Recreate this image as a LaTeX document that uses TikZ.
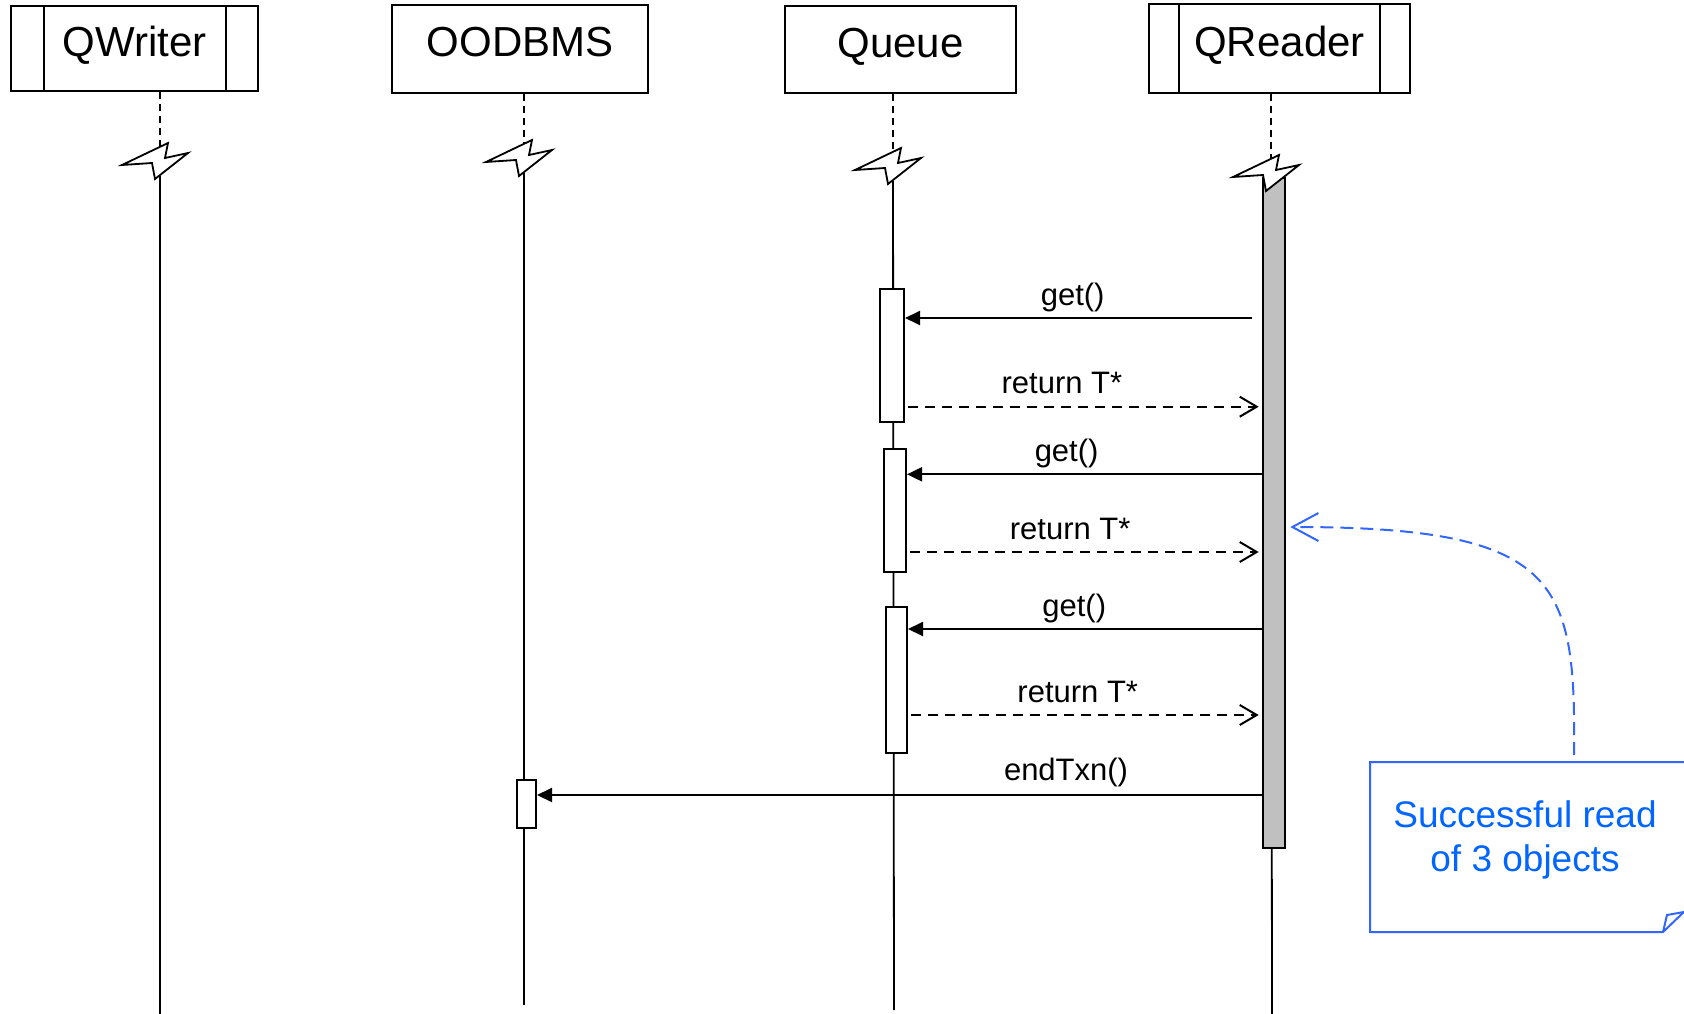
\documentclass[tikz,border=0pt]{standalone}
\usepackage{fontspec}
\setmainfont{Liberation Sans}
\usetikzlibrary{arrows.meta}
\definecolor{notetext}{RGB}{0,102,255}
\definecolor{noteline}{RGB}{51,102,255}
\definecolor{bargray}{RGB}{192,192,192}

\begin{document}
\begin{tikzpicture}[x=1pt, y=-1pt, line width=2pt,
			obj/.style = {draw, rectangle, fill=white, inner sep=0pt, font=\fontsize{42}{50}\selectfont, text height=30pt, text depth=14pt},
			act/.style = {draw, rectangle, fill=white, inner sep=0pt},
			bolt/.style = {draw, fill=white, line width=1.8pt, line join=miter},
			life/.style = {line width=1.8pt},
			stub/.style = {line width=1.5pt, dash pattern=on 7pt off 5pt},
			call/.style = {-{Triangle[length=15pt,width=14pt]}},
			reply/.style = {dash pattern=on 10pt off 7pt, shorten <=3pt, shorten >=3pt, -{Straight Barb[length=17pt,width=20pt]}},
			msg/.style = {font=\fontsize{31}{37}\selectfont, inner sep=0pt, text depth=0pt, above=12pt},
			notebox/.style = {draw=noteline, line width=2pt, line join=miter}]
			
			\useasboundingbox (0,0) rectangle (1684,1014);
			
			% objects
			\node[obj, minimum width=247pt, minimum height=85pt] (qwriter) at (134.5,48.5) {QWriter};
			\node[obj, minimum width=256pt, minimum height=88pt] (oodbms) at (520,49) {OODBMS};
			\node[obj, minimum width=231pt, minimum height=87pt] (queue) at (900.5,49.7) {Queue};
			\node[obj, minimum width=261pt, minimum height=89pt] (qreader) at (1279.5,48.8) {QReader};
			
			\draw ([xshift=33.6pt]qwriter.north west) -- ([xshift=33.6pt]qwriter.south west);
			\draw ([xshift=-32.6pt]qwriter.north east) -- ([xshift=-32.6pt]qwriter.south east);
			\draw ([xshift=31pt]qreader.north west) -- ([xshift=31pt]qreader.south west);
			\draw ([xshift=-31pt]qreader.north east) -- ([xshift=-31pt]qreader.south east);
			
			% lifelines
			\coordinate (qwz) at (160,143);
			\coordinate (odz) at (524,140);
			\coordinate (quz) at (893,148);
			\coordinate (qrz) at (1271,155);
			\coordinate (qwend) at (160,1016);
			\coordinate (odend) at (524,1005);
			\coordinate (quend) at (894,1010);
			\coordinate (qrend) at (1272,1016);
			
			\draw[stub] (qwz |- qwriter.south) -- ([yshift=-4pt]qwz);
			\draw[stub] (odz |- oodbms.south) -- ([yshift=-4pt]odz);
			\draw[stub] (quz |- queue.south) -- ([yshift=-4pt]quz);
			\draw[stub] (qrz |- qreader.south) -- ([yshift=-4pt]qrz);
			
			\draw[life] ([yshift=-33pt]qwz) -- (qwend);
			\draw[life] ([yshift=-33pt]odz) -- (odend);
			\draw[life] ([yshift=-33pt]quz) -- (quend);
			\draw[life] ([yshift=-33pt]qrz) -- (qrend);
			
			% activations
			\node[act, minimum width=24pt, minimum height=133pt, anchor=north] (qa1) at (892,288) {};
			\node[act, minimum width=22pt, minimum height=123pt, anchor=north] (qa2) at (895,448) {};
			\node[act, minimum width=21pt, minimum height=146pt, anchor=north] (qa3) at (896.5,606) {};
			\node[act, minimum width=19pt, minimum height=48pt, anchor=north] (oa) at (526.5,779) {};
			\node[act, fill=bargray, minimum width=22.6pt, minimum height=670pt, anchor=north] (bar) at (1274,177) {};
			
			\draw[bolt] (qwz) ++(-38,22) -- ++(46,-22) -- ++(-3,15) -- ++(23,-5) -- ++(-33,26) -- ++(-3,-16) -- cycle;
			\draw[bolt] (odz) ++(-38,22) -- ++(46,-22) -- ++(-3,15) -- ++(23,-5) -- ++(-33,26) -- ++(-3,-16) -- cycle;
			\draw[bolt] (quz) ++(-38,22) -- ++(46,-22) -- ++(-3,15) -- ++(23,-5) -- ++(-33,26) -- ++(-3,-16) -- cycle;
			\draw[bolt] (qrz) ++(-38,22) -- ++(46,-22) -- ++(-3,15) -- ++(23,-5) -- ++(-33,26) -- ++(-3,-16) -- cycle;
			
			% messages
			\draw[call, shorten <=10pt] (bar.west |- 0,318) -- (qa1.east |- 0,318) node[msg, pos=.53] {get()};
			\draw[reply] (qa1.east |- 0,406.7) -- (bar.west |- 0,406.7) node[msg, pos=.44] {return T*};
			\draw[call] (bar.west |- 0,474.3) -- (qa2.east |- 0,474.3) node[msg, pos=.55] {get()};
			\draw[reply] (qa2.east |- 0,552) -- (bar.west |- 0,552) node[msg, pos=.46] {return T*};
			\draw[call] (bar.west |- 0,629) -- (qa3.east |- 0,629) node[msg, pos=.53] {get()};
			\draw[reply] (qa3.east |- 0,715) -- (bar.west |- 0,715) node[msg, pos=.48] {return T*};
			\draw[call] (bar.west |- 0,795) -- (oa.east |- 0,795) node[msg, pos=.27, yshift=2pt] {endTxn()};
			
			% note
			\draw[notebox, fill=white] (1687,762) -- (1370,762) -- (1370,932) -- (1663,932) -- (1687,909);
			\draw[notebox] (1663,932) -- (1667,915) -- (1684,912);
			\node[font=\fontsize{37}{44}\selectfont, text=notetext, align=center, inner sep=0pt] (notetxt) at (1525,840) {Successful read\\of 3 objects};
			\coordinate (notetop) at (1574,755);
			\draw[noteline, dash pattern=on 13pt off 7pt, shorten >=4pt, -{Straight Barb[length=26pt,width=28pt]}] (notetop) .. controls (1576,580) and (1560,527) .. (bar.east |- 0,527);
			
		\end{tikzpicture}
\end{document}
